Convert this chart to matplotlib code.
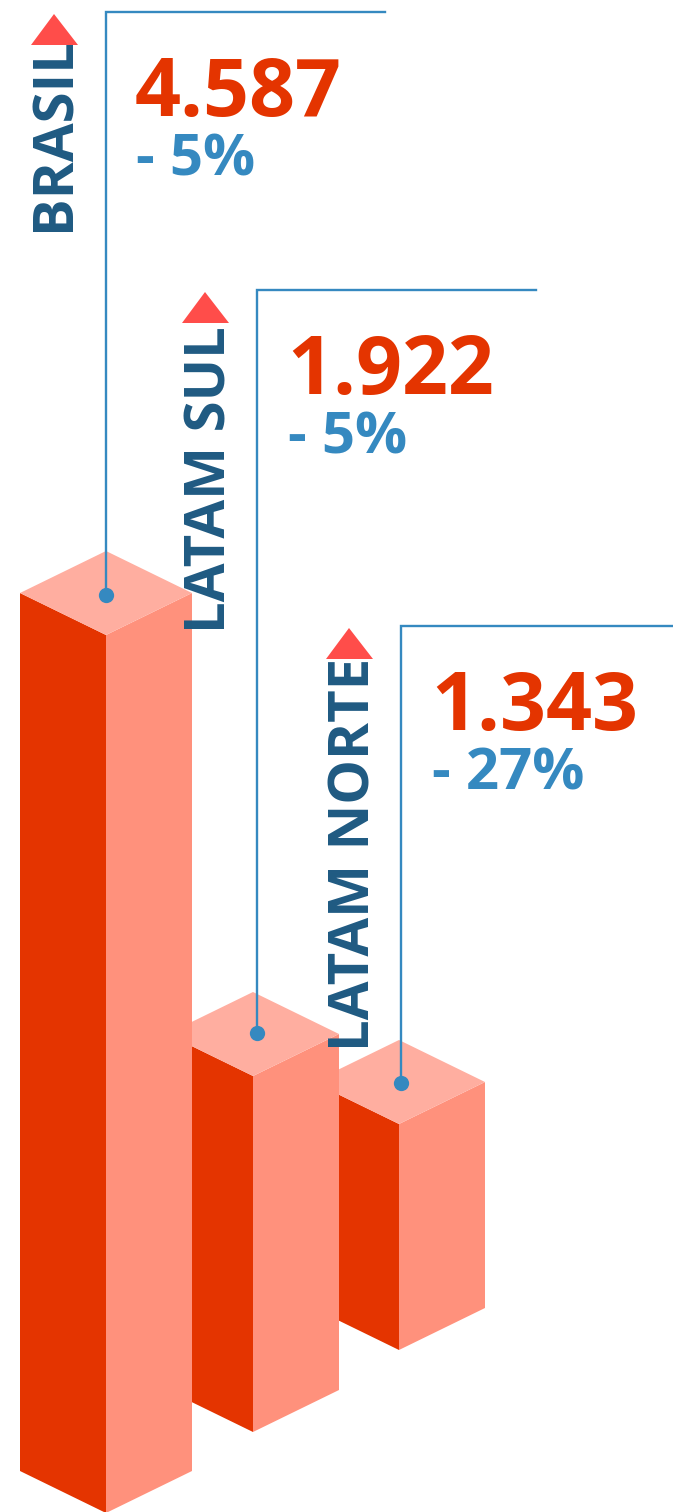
import matplotlib
matplotlib.use('Agg')
import matplotlib.pyplot as plt
from matplotlib.patches import Polygon

plt.rcParams['font.family'] = ['Open Sans', 'DejaVu Sans']

regions = ['BRASIL', 'LATAM SUL', 'LATAM NORTE']
values = ['4.587', '1.922', '1.343']
changes = ['- 5%', '- 5%', '- 27%']

# pixel geometry of the picture, one entry per column
center_x = [106, 253, 399]
top_y = [593, 1034, 1082]
bottom_y = [1471, 1390, 1308]
leader_x = [106, 257, 401]
leader_top = [12, 290, 626]
leader_end = [385, 536, 673]
dot_y = [595, 1033, 1083]
label_x = [55, 211, 355]
label_bottom = [231, 633, 1051]
tri_x = [54, 205, 349]
tri_top = [14, 292, 628]
value_x = [135, 287, 431]
value_y = [95, 373, 709]
change_x = [136, 288, 432]
change_y = [160, 438, 775]

DARK = '#e43400'
LIGHT = '#ff917c'
TOP = '#ffaea0'
NAVY = '#1f5a82'
BLUE = '#3589c0'
RED = '#ff4d4a'

fig = plt.figure(figsize=(6.73, 15.12), dpi=100)
ax = fig.add_axes([0, 0, 1, 1])
ax.set_xlim(0, 673)
ax.set_ylim(1512, 0)
ax.axis('off')

hw = 86
dy = 42
# columns drawn back to front, the left one hides the others' left corners
for i in [2, 1, 0]:
    cx, ty, by = center_x[i], top_y[i], bottom_y[i]
    z = 5 - i
    ax.add_patch(Polygon([(cx - hw, ty), (cx, ty + dy), (cx, by + dy), (cx - hw, by)], fc=DARK, ec='none', zorder=z))
    ax.add_patch(Polygon([(cx, ty + dy), (cx + hw, ty), (cx + hw, by), (cx, by + dy)], fc=LIGHT, ec='none', zorder=z))
    ax.add_patch(Polygon([(cx - hw, ty), (cx, ty - dy), (cx + hw, ty), (cx, ty + dy)], fc=TOP, ec='none', zorder=z))

for i in range(3):
    ax.plot([leader_end[i], leader_x[i], leader_x[i]], [leader_top[i], leader_top[i], dot_y[i]],
            color=BLUE, lw=1.7, zorder=8, solid_joinstyle='miter')
    ax.plot(leader_x[i], dot_y[i], 'o', color=BLUE, ms=11, mec='none', zorder=9)
    ax.text(label_x[i], label_bottom[i], regions[i], rotation=90, ha='center', va='bottom',
            color=NAVY, fontsize=40.5, fontweight='bold', zorder=10)
    ax.add_patch(Polygon([(tri_x[i], tri_top[i]), (tri_x[i] - 23, tri_top[i] + 31), (tri_x[i] + 24, tri_top[i] + 31)],
                         fc=RED, ec='none', zorder=10))
    ax.text(value_x[i], value_y[i], values[i], color=DARK, fontsize=58, fontweight='bold', ha='left', va='center', zorder=10)
    ax.text(change_x[i], change_y[i], changes[i], color=BLUE, fontsize=41.8, fontweight='bold', ha='left', va='center', zorder=10)

fig.savefig('out.png', dpi=100, facecolor='white')
